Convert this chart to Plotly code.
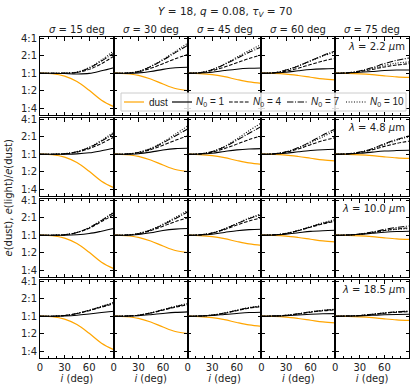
import plotly.graph_objects as go
from plotly.subplots import make_subplots

# inclination grid (deg)
inc = [0, 15, 30, 45, 60, 75, 90]
sigmas = [15, 30, 45, 60, 75]
wavelengths = ['2.2', '4.8', '10.0', '18.5']
n0_values = [1, 4, 7, 10]

# log2 e(dust), one list per sigma (same for all wavelengths)
dust = [
    [0, -0.03, -0.17, -0.48, -0.98, -1.55, -1.92],
    [0, -0.03, -0.12, -0.33, -0.62, -0.88, -1.0],
    [0, -0.02, -0.08, -0.2, -0.36, -0.5, -0.58],
    [0, -0.01, -0.05, -0.13, -0.23, -0.33, -0.38],
    [0, -0.01, -0.035, -0.08, -0.15, -0.21, -0.24],
]

# log2 e(light)/e(dust), one list per sigma
# lambda = 2.2 um
n1_22 = [
    [0, 0, -0.02, -0.04, -0.01, 0.14, 0.32],
    [0, 0, 0.02, 0.1, 0.22, 0.31, 0.34],
    [0, 0.01, 0.06, 0.15, 0.23, 0.28, 0.3],
    [0, 0.01, 0.06, 0.14, 0.21, 0.25, 0.27],
    [0, 0.01, 0.05, 0.1, 0.15, 0.18, 0.19],
]
n4_22 = [
    [0, 0, 0, 0.04, 0.22, 0.55, 0.98],
    [0, 0, 0.08, 0.28, 0.55, 0.83, 1.08],
    [0, 0.03, 0.15, 0.35, 0.6, 0.85, 1.05],
    [0, 0.02, 0.12, 0.29, 0.5, 0.7, 0.85],
    [0, 0.02, 0.1, 0.22, 0.36, 0.47, 0.55],
]
n7_22 = [
    [0, 0, 0.01, 0.06, 0.3, 0.7, 1.15],
    [0, 0.01, 0.1, 0.38, 0.75, 1.18, 1.6],
    [0, 0.03, 0.2, 0.5, 0.85, 1.2, 1.5],
    [0, 0.03, 0.18, 0.42, 0.72, 1.02, 1.27],
    [0, 0.02, 0.13, 0.32, 0.55, 0.74, 0.87],
]
n10_22 = [
    [0, 0, 0.01, 0.07, 0.33, 0.76, 1.3],
    [0, 0.01, 0.11, 0.4, 0.8, 1.25, 1.72],
    [0, 0.03, 0.21, 0.53, 0.92, 1.3, 1.65],
    [0, 0.03, 0.18, 0.42, 0.7, 0.98, 1.22],
    [0, 0.02, 0.12, 0.28, 0.45, 0.58, 0.65],
]
# lambda = 4.8 um
n1_48 = [
    [0, 0, 0, 0.02, 0.08, 0.2, 0.34],
    [0, 0, 0.03, 0.12, 0.24, 0.32, 0.34],
    [0, 0.01, 0.06, 0.16, 0.25, 0.3, 0.32],
    [0, 0.01, 0.06, 0.14, 0.21, 0.26, 0.28],
    [0, 0.01, 0.05, 0.12, 0.18, 0.21, 0.23],
]
n4_48 = [
    [0, 0, 0.03, 0.12, 0.32, 0.62, 0.98],
    [0, 0.01, 0.08, 0.26, 0.52, 0.8, 1.05],
    [0, 0.02, 0.12, 0.32, 0.58, 0.84, 1.05],
    [0, 0.02, 0.12, 0.3, 0.55, 0.78, 0.95],
    [0, 0.02, 0.1, 0.25, 0.45, 0.62, 0.75],
]
n7_48 = [
    [0, 0, 0.03, 0.14, 0.38, 0.75, 1.2],
    [0, 0.01, 0.1, 0.32, 0.65, 1.05, 1.45],
    [0, 0.02, 0.15, 0.42, 0.8, 1.2, 1.6],
    [0, 0.02, 0.14, 0.38, 0.72, 1.1, 1.45],
    [0, 0.02, 0.12, 0.32, 0.6, 0.85, 1.05],
]
n10_48 = [
    [0, 0, 0.03, 0.15, 0.4, 0.8, 1.27],
    [0, 0.01, 0.1, 0.34, 0.7, 1.15, 1.62],
    [0, 0.02, 0.16, 0.45, 0.88, 1.35, 1.8],
    [0, 0.02, 0.13, 0.35, 0.66, 1.0, 1.35],
    [0, 0.02, 0.11, 0.3, 0.55, 0.8, 1.0],
]
# lambda = 10.0 um
n1_100 = [
    [0, 0, 0, 0.03, 0.1, 0.23, 0.38],
    [0, 0, 0.04, 0.14, 0.27, 0.35, 0.38],
    [0, 0.01, 0.06, 0.16, 0.26, 0.32, 0.34],
    [0, 0.01, 0.06, 0.14, 0.22, 0.26, 0.28],
    [0, 0.01, 0.05, 0.11, 0.17, 0.21, 0.23],
]
n4_100 = [
    [0, 0, 0.03, 0.15, 0.4, 0.78, 1.18],
    [0, 0.01, 0.08, 0.26, 0.52, 0.78, 1.0],
    [0, 0.02, 0.12, 0.32, 0.58, 0.82, 1.0],
    [0, 0.02, 0.1, 0.26, 0.46, 0.65, 0.8],
    [0, 0.01, 0.06, 0.15, 0.27, 0.36, 0.42],
]
n7_100 = [
    [0, 0, 0.03, 0.16, 0.43, 0.84, 1.3],
    [0, 0.01, 0.09, 0.3, 0.6, 0.95, 1.33],
    [0, 0.02, 0.13, 0.36, 0.66, 0.95, 1.18],
    [0, 0.02, 0.1, 0.27, 0.48, 0.68, 0.85],
    [0, 0.01, 0.07, 0.18, 0.33, 0.45, 0.53],
]
n10_100 = [
    [0, 0, 0.03, 0.16, 0.44, 0.86, 1.33],
    [0, 0.01, 0.1, 0.32, 0.64, 1.02, 1.42],
    [0, 0.02, 0.13, 0.37, 0.68, 0.99, 1.23],
    [0, 0.02, 0.11, 0.28, 0.5, 0.72, 0.9],
    [0, 0.01, 0.06, 0.15, 0.26, 0.34, 0.38],
]
# lambda = 18.5 um
n1_185 = [
    [0, 0, 0.02, 0.06, 0.13, 0.21, 0.28],
    [0, 0, 0.03, 0.09, 0.16, 0.22, 0.25],
    [0, 0.01, 0.04, 0.1, 0.16, 0.21, 0.23],
    [0, 0.01, 0.03, 0.07, 0.11, 0.14, 0.15],
    [0, 0.01, 0.02, 0.05, 0.08, 0.1, 0.11],
]
n4_185 = [
    [0, 0, 0.04, 0.15, 0.32, 0.52, 0.72],
    [0, 0.01, 0.06, 0.18, 0.35, 0.52, 0.65],
    [0, 0.01, 0.06, 0.17, 0.32, 0.46, 0.55],
    [0, 0.01, 0.05, 0.13, 0.23, 0.31, 0.36],
    [0, 0.01, 0.04, 0.1, 0.17, 0.23, 0.26],
]
n7_185 = [
    [0, 0, 0.04, 0.16, 0.34, 0.55, 0.77],
    [0, 0.01, 0.06, 0.19, 0.37, 0.55, 0.7],
    [0, 0.01, 0.07, 0.18, 0.34, 0.49, 0.58],
    [0, 0.01, 0.05, 0.14, 0.25, 0.33, 0.39],
    [0, 0.01, 0.04, 0.11, 0.19, 0.25, 0.29],
]
n10_185 = [
    [0, 0, 0.04, 0.16, 0.35, 0.57, 0.8],
    [0, 0.01, 0.06, 0.2, 0.38, 0.57, 0.73],
    [0, 0.01, 0.07, 0.19, 0.35, 0.5, 0.6],
    [0, 0.01, 0.05, 0.14, 0.25, 0.34, 0.4],
    [0, 0.01, 0.04, 0.11, 0.19, 0.25, 0.29],
]

light = [
    [n1_22, n4_22, n7_22, n10_22],
    [n1_48, n4_48, n7_48, n10_48],
    [n1_100, n4_100, n7_100, n10_100],
    [n1_185, n4_185, n7_185, n10_185],
]
# matplotlib-like dash patterns for N0 = 1, 4, 7, 10
dashes = ['solid', '3.7px,1.6px', '6.4px,1.6px,1px,1.6px', '1px,1.65px']
ORANGE = '#ffa500'
TXT = '#222222'

FONT = 'DejaVu Sans'
LEG_FONT = 'Liberation Sans'
W, H = 415, 389
ML, MR, MT, MB = 40, 6, 37, 31
PW, PH = W - ML - MR, H - MT - MB


def px_x(px):
    return (px - ML) / PW


def px_y(py):
    return 1 - (py - MT) / PH


fig = make_subplots(rows=4, cols=5, horizontal_spacing=0, vertical_spacing=3 / PH)

for r in range(4):
    for c in range(5):
        # reference lines at 1:1 and i = 90
        fig.add_hline(y=0, line=dict(color='#bdbdbd', width=1.6), layer='below', row=r + 1, col=c + 1)
        fig.add_vline(x=90, line=dict(color='#999999', width=2), layer='above', row=r + 1, col=c + 1)
        fig.add_trace(go.Scatter(x=inc, y=dust[c], mode='lines', name='dust',
                                 line=dict(color=ORANGE, width=1.2, shape='spline'),
                                 showlegend=False), row=r + 1, col=c + 1)
        for k, n0 in enumerate(n0_values):
            fig.add_trace(go.Scatter(x=inc, y=light[r][k][c], mode='lines',
                                     name=f'N0 = {n0}',
                                     line=dict(color='black', width=1.05, dash=dashes[k], shape='spline'),
                                     showlegend=False), row=r + 1, col=c + 1)

axis_common = dict(showline=True, linecolor='black', linewidth=1, mirror='allticks',
                   ticks='inside', ticklen=3.5, tickcolor='black', showgrid=False,
                   zeroline=False, automargin=False, tickfont=dict(family=FONT, size=10, color=TXT))
fig.update_xaxes(range=[0, 90], tickvals=[0, 30, 60], showticklabels=False,
                 minor=dict(dtick=10, ticks='inside', ticklen=2, tickcolor='black'), **axis_common)
fig.update_yaxes(range=[-2.4, 2.08], tickvals=[-2, -1, 0, 1, 2],
                 ticktext=['1:4', '1:2', '1:1', '2:1', '4:1'], showticklabels=False, **axis_common)
for c in range(5):
    tv = [0, 30, 60, 90] if c == 4 else [0, 30, 60]
    fig.update_xaxes(showticklabels=True, tickvals=tv,
                     title=dict(text='<i>i</i> (deg)', font=dict(family=FONT, size=10, color=TXT), standoff=2),
                     row=4, col=c + 1)
for r in range(4):
    fig.update_yaxes(showticklabels=True, row=r + 1, col=1)

ann = []
for c, s in enumerate(sigmas):
    ref = 'x' if c == 0 else f'x{c + 1}'
    ann.append(dict(text=f'<i>σ</i> = {s} deg', xref=f'{ref} domain', yref='paper', x=0.5, y=1,
                    yanchor='bottom', showarrow=False, font=dict(family=FONT, size=10, color=TXT)))
for r, lam in enumerate(wavelengths):
    idx = r * 5 + 5
    ann.append(dict(text=f'<i>λ</i> = {lam} <i>μ</i>m', xref=f'x{idx} domain', yref=f'y{idx} domain',
                    x=0.97, y=0.97, xanchor='right', yanchor='top', showarrow=False,
                    font=dict(family=FONT, size=10, color=TXT)))
ann.append(dict(text='<i>Y</i> = 18, <i>q</i> = 0.08, <i>τ</i><sub><i>V</i></sub> = 70', xref='paper', yref='paper',
                x=0.5, y=px_y(12), yanchor='middle', showarrow=False,
                font=dict(family=FONT, size=10.5, color=TXT)))
ann.append(dict(text='<i>e</i>(dust), <i>e</i>(light)/<i>e</i>(dust)', xref='paper', yref='paper',
                x=px_x(8), y=0.5, xanchor='center', textangle=-90, showarrow=False,
                font=dict(family=FONT, size=10, color=TXT)))

# legend box drawn inside the top row
shapes = [dict(type='rect', xref='paper', yref='paper', x0=px_x(121), x1=px_x(406), y0=px_y(111), y1=px_y(93),
               line=dict(color='#cccccc', width=1), fillcolor='rgba(255,255,255,0.85)', layer='above')]
leg_items = [('dust', ORANGE, 'solid', 124, 147),
             ('<i>N</i><sub>0</sub> = 1', 'black', dashes[0], 172, 194),
             ('<i>N</i><sub>0</sub> = 4', 'black', dashes[1], 229, 251),
             ('<i>N</i><sub>0</sub> = 7', 'black', dashes[2], 287, 309),
             ('<i>N</i><sub>0</sub> = 10', 'black', dashes[3], 346, 368)]
for label, col, dash, x0, xt in leg_items:
    shapes.append(dict(type='line', xref='paper', yref='paper', x0=px_x(x0), x1=px_x(x0 + 20),
                       y0=px_y(102), y1=px_y(102), line=dict(color=col, width=1.2, dash=dash), layer='above'))
    ann.append(dict(text=label, xref='paper', yref='paper', x=px_x(xt), y=px_y(102), xanchor='left',
                    yanchor='middle', showarrow=False, font=dict(family=LEG_FONT, size=10, color=TXT)))

fig.update_layout(
    width=W, height=H, margin=dict(l=ML, r=MR, t=MT, b=MB, autoexpand=False),
    paper_bgcolor='white', plot_bgcolor='white',
    annotations=list(fig.layout.annotations) + ann,
    shapes=list(fig.layout.shapes) + shapes,
    showlegend=False,
)

# page body margin would shift the figure by 8px
fig.write_html('out.html', config={'displayModeBar': False},
               post_script="document.body.style.margin='0';")
